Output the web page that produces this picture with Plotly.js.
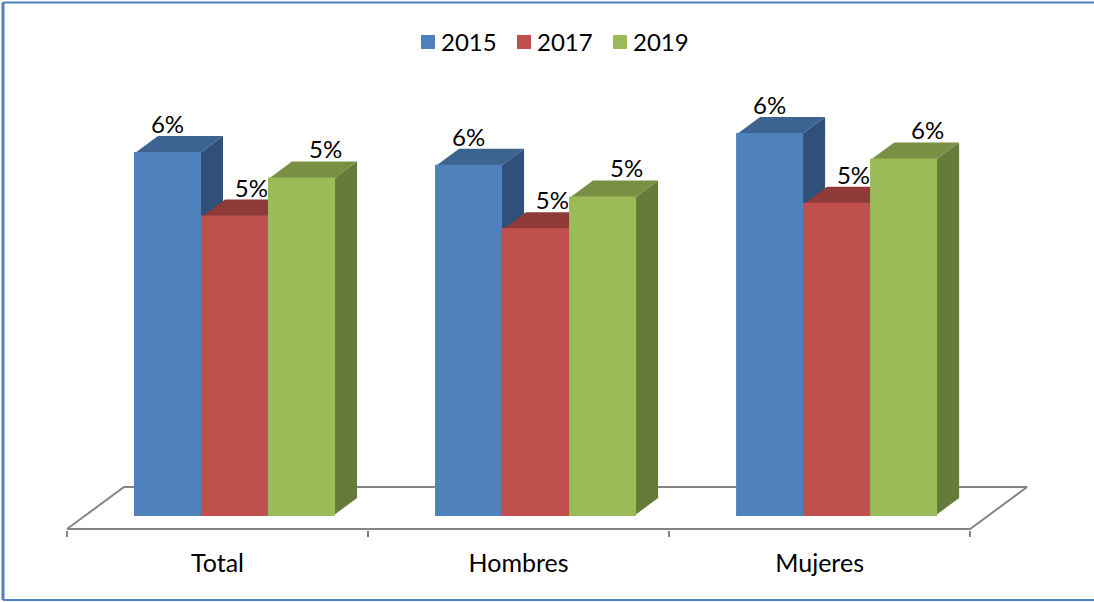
<!DOCTYPE html>
<html>
<head>
<meta charset="utf-8">
<script src="https://cdn.plot.ly/plotly-3.0.1.min.js"></script>
<style>html,body{margin:0;padding:0;background:#fff}#chart{width:1094px;height:602px}</style>
</head>
<body>
<div id="chart"></div>
<script>
const categories = ['Total', 'Hombres', 'Mujeres'];
const years = ['2015', '2017', '2019'];
const v2015 = [5.7, 5.5, 6.0];
const v2017 = [4.7, 4.5, 4.9];
const v2019 = [5.3, 5.0, 5.6];
const seriesValues = [v2015, v2017, v2019];

const frontColors = ['#4F81BD', '#C0504D', '#9BBB59'];
const topColors = ['#3D6491', '#8E3A38', '#788F44'];
const sideColors = ['#2F5078', '#7A302E', '#667A39'];
const gridGrey = '#858585';
const font = 'Lato, Carlito, "Open Sans", sans-serif';

// Axis geometry (data units)
const barWidth = 0.216, barStep = 0.2226, barStart = -0.2741;
const depthX = 0.0764, depthY = 0.268;
const xMin = -0.5066, xMax = 2.6956, yMin = -0.2362, yMax = 7.323;
const floorFrontY = -0.2205, floorBackY = 0.441, floorFrontLeft = -0.5, floorFrontRight = 2.5, floorDepthX = 0.1894;
const labelShift = [0.0, 0.056, 0.08];
const labelLift = 0.41;

const traces = [];

// floor
traces.push({
  type: 'scatter', mode: 'lines', fill: 'toself', fillcolor: '#fff',
  x: [floorFrontLeft, floorFrontLeft + floorDepthX, floorFrontRight + floorDepthX, floorFrontRight, floorFrontLeft],
  y: [floorFrontY, floorBackY, floorBackY, floorFrontY, floorFrontY],
  line: {color: gridGrey, width: 2}, showlegend: false, hoverinfo: 'skip', xaxis: 'x', yaxis: 'y'
});

// depth faces (behind the fronts), computed from values
seriesValues.forEach((vals, s) => {
  vals.forEach((v, i) => {
    const xl = i + barStart + s * barStep;
    const xr = xl + barWidth;
    traces.push({
      type: 'scatter', mode: 'none', fill: 'toself', fillcolor: sideColors[s],
      x: [xr, xr + depthX, xr + depthX, xr, xr],
      y: [0, depthY, v + depthY, v, 0],
      showlegend: false, hoverinfo: 'skip', xaxis: 'x', yaxis: 'y'
    });
    traces.push({
      type: 'scatter', mode: 'none', fill: 'toself', fillcolor: topColors[s],
      x: [xl, xl + depthX, xr + depthX, xr, xl],
      y: [v, v + depthY, v + depthY, v, v],
      showlegend: false, hoverinfo: 'skip', xaxis: 'x', yaxis: 'y'
    });
  });
});

// front faces
seriesValues.forEach((vals, s) => {
  traces.push({
    type: 'bar', name: years[s], x: categories, y: vals,
    width: barWidth, offset: barStart + s * barStep,
    marker: {color: frontColors[s], line: {color: frontColors[s], width: 2}},
    xaxis: 'x2', yaxis: 'y', hovertemplate: '%{x} ' + years[s] + ': %{y}%<extra></extra>'
  });
});

// data labels
seriesValues.forEach((vals, s) => {
  traces.push({
    type: 'scatter', mode: 'text', cliponaxis: false,
    x: vals.map((v, i) => i + barStart + s * barStep + barWidth / 2 + labelShift[s]),
    y: vals.map(v => v + labelLift),
    text: vals.map(v => Math.round(v) + '%'),
    textposition: 'middle center',
    textfont: {family: font, size: 24, color: '#000'},
    showlegend: false, hoverinfo: 'skip', xaxis: 'x', yaxis: 'y'
  });
});

const W = 1094, H = 602;
const frameLine = {color: '#4F81BD', width: 2};
const mL = 65, mR = 65, mT = 50, mB = 72;
const px = p => (p - mL) / (W - mL - mR);
const py = p => (H - mB - p) / (H - mT - mB);

const layout = {
  width: W, height: H,
  margin: {l: mL, r: mR, t: mT, b: mB, pad: 0},
  paper_bgcolor: '#fff', plot_bgcolor: 'rgba(0,0,0,0)',
  barmode: 'overlay',
  showlegend: true,
  legend: {
    orientation: 'h', x: px(408), xanchor: 'left', y: py(20), yanchor: 'top',
    font: {family: font, size: 24, color: '#000'},
    entrywidth: 51, entrywidthmode: 'pixels', itemclick: false, itemdoubleclick: false,
    traceorder: 'normal', bgcolor: 'rgba(0,0,0,0)', borderwidth: 0
  },
  font: {family: font, color: '#000'},
  xaxis: {
    type: 'linear', range: [xMin, xMax], visible: false, fixedrange: true
  },
  xaxis2: {
    type: 'category', overlaying: 'x', side: 'bottom', anchor: 'y',
    categoryorder: 'array', categoryarray: categories,
    range: [xMin, xMax], tickson: 'boundaries',
    ticks: 'outside', ticklen: 6, tickwidth: 2, tickcolor: gridGrey,
    showgrid: false, showline: false, zeroline: false,
    tickfont: {family: font, size: 25, color: '#000'},
    ticklabelstandoff: 16, fixedrange: true
  },
  yaxis: {
    range: [yMin, yMax], visible: false, showgrid: false, zeroline: false, fixedrange: true
  },
  shapes: [
    {type: 'line', xref: 'paper', yref: 'paper', x0: px(3), x1: px(1094), y0: py(2.5), y1: py(2.5), line: frameLine, layer: 'below'},
    {type: 'line', xref: 'paper', yref: 'paper', x0: px(3), x1: px(3), y0: py(2.5), y1: py(600), line: {color: '#4F81BD', width: 3}, layer: 'below'},
    {type: 'line', xref: 'paper', yref: 'paper', x0: px(3), x1: px(1094), y0: py(600), y1: py(600), line: frameLine, layer: 'below'}
  ]
};

Plotly.newPlot('chart', traces, layout, {displayModeBar: false}).then(gd => {
  // tighten the gap between legend swatch and its text
  gd.querySelectorAll('.legend .legendtext').forEach(t => {
    t.setAttribute('x', parseFloat(t.getAttribute('x')) - 7);
  });
});
</script>
</body>
</html>
